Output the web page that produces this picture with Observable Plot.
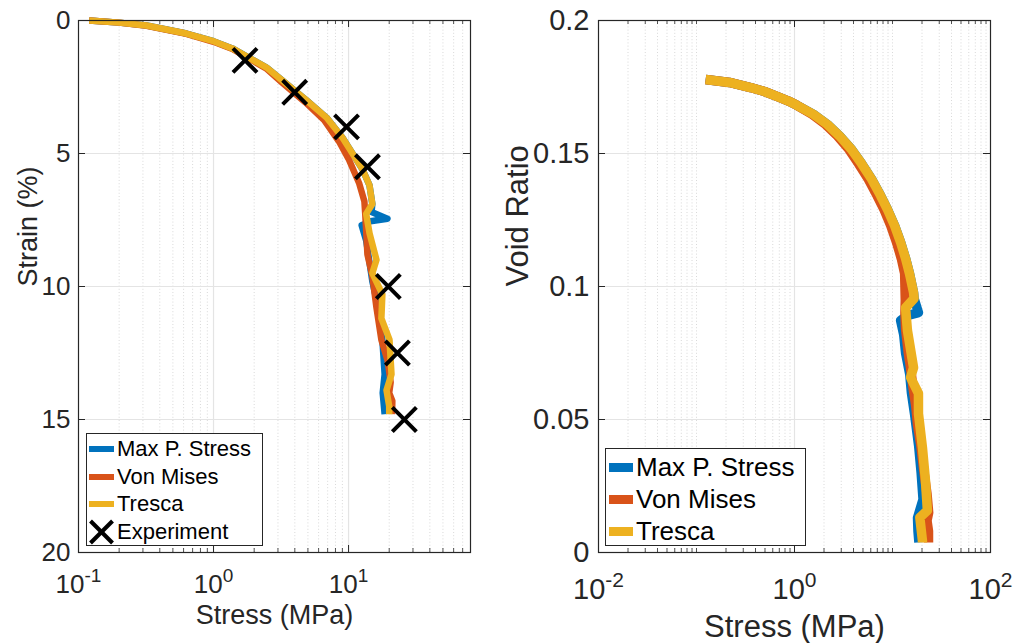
<!DOCTYPE html>
<html><head><meta charset="utf-8">
<script src="https://cdn.jsdelivr.net/npm/d3@7"></script>
<script src="https://cdn.jsdelivr.net/npm/@observablehq/plot@0.6"></script>
<style>
body{margin:0;background:#fff;font-family:"Liberation Sans",Arial,Helvetica,sans-serif;}
#wrap{position:relative;width:1016px;height:643px;overflow:hidden;background:#fff;}
.panel{position:absolute;top:0;}
.legend{position:absolute;background:#fff;border:1px solid #262626;box-sizing:border-box;}
.row{position:absolute;left:0;display:flex;align-items:center;white-space:nowrap;color:#000;}
</style></head><body><div id="wrap"></div>
<script>
// ---- legend / series labels ----
const seriesNames = ["Max P. Stress", "Von Mises", "Tresca"];
const seriesColors = ["#0072BD", "#D95319", "#EDB120"];
const experimentName = "Experiment";
const leftXTitle = "Stress (MPa)";
const leftYTitle = "Strain (%)";
const rightXTitle = "Stress (MPa)";
const rightYTitle = "Void Ratio";

// ---- left panel: [stress (MPa), strain (%)] ----
const leftMaxP = [[0.12,0],[0.2,0.08],[0.32,0.19],[0.63,0.49],[1.0,0.78],[1.38,1.05],[2.47,1.77],[3.24,2.26],[4.88,3.0],[6.87,3.65],[9.0,4.4],[10.7,5.0],[12.7,5.6],[14.3,6.2],[15.0,6.9],[14.8,7.2],[19.4,7.45],[14.5,7.55],[12.5,7.7],[13.5,8.27],[14.2,9.0],[15.0,9.8],[16.9,11.0],[17.8,12.0],[18.5,13.3],[17.9,14.0],[18.5,14.8]];
const leftVonMises = [[0.12,0],[0.2,0.08],[0.32,0.2],[0.63,0.5],[1.0,0.8],[1.38,1.07],[2.45,1.8],[3.2,2.32],[4.8,3.08],[6.6,3.75],[8.5,4.55],[10.0,5.2],[12.0,6.13],[13.1,6.8],[13.3,7.3],[13.5,7.9],[13.8,8.8],[15.0,9.6],[16.1,10.8],[17.5,12.0],[19.5,12.8],[20.5,13.6],[20.0,14.0],[21.1,14.3],[21.0,14.8]];
const leftTresca = [[0.12,0],[0.2,0.08],[0.32,0.19],[0.63,0.49],[1.0,0.78],[1.38,1.05],[2.47,1.77],[3.24,2.26],[4.88,3.0],[6.87,3.65],[9.0,4.4],[10.7,5.0],[12.7,5.6],[14.3,6.2],[15.0,6.9],[13.5,7.27],[14.3,8.0],[16.1,9.0],[15.0,9.5],[17.8,10.3],[17.5,11.2],[20.1,12.0],[20.8,13.3],[19.1,13.9],[20.0,14.5],[20.0,14.8]];
const leftExperiment = [[1.71,1.5],[3.99,2.7],[9.66,4.0],[13.8,5.5],[19.7,10.0],[23.0,12.5],[25.9,15.0]];

// ---- right panel: [stress (MPa), void ratio] ----
const rightMaxP = [[0.124,0.1778],[0.217,0.1767],[0.356,0.1748],[0.494,0.1733],[0.671,0.1714],[0.869,0.1697],[1.048,0.1682],[1.563,0.1647],[2.17,0.1609],[2.88,0.1566],[3.82,0.1515],[4.83,0.1462],[6.11,0.1404],[7.55,0.1342],[8.9,0.1289],[10.5,0.1229],[12.1,0.1166],[13.6,0.1105],[14.9,0.1049],[16.4,0.0977],[16.6,0.0955],[18.4,0.0902],[14.0,0.089],[12.1,0.0872],[13.0,0.082],[13.6,0.075],[15.0,0.067],[15.6,0.06],[16.8,0.052],[18.5,0.04],[19.6,0.03],[20.5,0.02],[18.0,0.013],[18.2,0.008],[18.6,0.0038]];
const rightVonMises = [[0.124,0.1778],[0.217,0.1767],[0.356,0.1748],[0.494,0.1733],[0.671,0.1714],[0.869,0.1697],[1.048,0.1682],[1.52,0.1647],[2.08,0.1609],[2.74,0.1566],[3.6,0.1515],[4.5,0.1462],[5.65,0.1404],[6.95,0.1342],[8.2,0.1289],[9.6,0.1229],[11.0,0.1166],[12.3,0.1105],[13.3,0.1049],[13.5,0.095],[13.4,0.09],[13.6,0.084],[14.5,0.075],[15.2,0.07],[16.2,0.062],[17.3,0.055],[18.0,0.048],[19.5,0.04],[21.0,0.03],[22.5,0.022],[23.4,0.015],[22.5,0.012],[23.3,0.008],[23.3,0.0038]];
const rightTresca = [[0.124,0.1778],[0.217,0.1767],[0.356,0.1748],[0.494,0.1733],[0.671,0.1714],[0.869,0.1697],[1.048,0.1682],[1.563,0.1647],[2.17,0.1609],[2.88,0.1566],[3.82,0.1515],[4.83,0.1462],[6.11,0.1404],[7.55,0.1342],[8.9,0.1289],[10.5,0.1229],[12.1,0.1166],[13.6,0.1105],[14.9,0.1049],[16.4,0.0977],[16.6,0.0955],[13.6,0.092],[14.2,0.0835],[16.4,0.0695],[15.3,0.0658],[18.4,0.0598],[18.4,0.0522],[20.2,0.0395],[21.7,0.027],[22.7,0.0158],[19.0,0.0132],[20.2,0.0045],[20.2,0.0038]];

// ---- axes ----
const leftXDomain = [0.1, 80];
const leftXMajor = [0.1, 1, 10];
const leftYDomain = [0, 20];
const leftYTicks = [0, 5, 10, 15, 20];
const rightXDomain = [0.01, 100];
const rightXMajor = [0.01, 1, 100];
const rightYDomain = [0, 0.2];
const rightYTicks = [0, 0.05, 0.1, 0.15, 0.2];
const minorMultipliers = [2, 3, 4, 5, 6, 7, 8, 9];

const INK = "#262626";
const FONT = "'Liberation Sans', Arial, Helvetica, sans-serif";

function minorTicks(domain, extraDecades) {
  const out = [];
  const lo = Math.floor(Math.log10(domain[0])), hi = Math.ceil(Math.log10(domain[1]));
  for (let k = lo; k < hi; k++) {
    for (const m of minorMultipliers) {
      const v = m * Math.pow(10, k);
      if (v > domain[0] && v < domain[1]) out.push(+v.toPrecision(6));
    }
    const d = Math.pow(10, k);
    if (extraDecades && d > domain[0] && d < domain[1]) out.push(d);
  }
  return out;
}

function toRows(arr) { return arr.map(([x, y]) => ({x, y})); }

function superscriptTicks(svg, baseSize, supSize, supDy) {
  svg.querySelectorAll('g[aria-label="x-axis tick label"] text').forEach(t => {
    const s = t.textContent;
    const m = s.match(/^10\^(-?\d+)$/);
    if (!m) return;
    while (t.firstChild) t.removeChild(t.firstChild);
    const ns = "http://www.w3.org/2000/svg";
    const b = document.createElementNS(ns, "tspan");
    b.textContent = "10";
    b.setAttribute("font-size", baseSize);
    const sp = document.createElementNS(ns, "tspan");
    sp.textContent = m[1];
    sp.setAttribute("font-size", supSize);
    sp.setAttribute("dy", supDy);
    t.appendChild(b); t.appendChild(sp);
  });
}

function panel(cfg) {
  const frameW = cfg.width - cfg.ml - cfg.mr;
  const frameH = cfg.height - cfg.mt - cfg.mb;
  const marks = [
    Plot.gridX(cfg.minorX, {stroke: "#cfcfcf", strokeOpacity: 1, strokeDasharray: "1,2.2", strokeWidth: 0.8}),
    Plot.gridX(cfg.majorGridX, {stroke: "#e4e4e4", strokeOpacity: 1, strokeWidth: 1.2}),
    Plot.gridY(cfg.majorGridY, {stroke: "#e4e4e4", strokeOpacity: 1, strokeWidth: 1.2}),
    // inward ticks
    Plot.tickX(cfg.minorTickX, {x: d => d, stroke: INK, strokeWidth: 0.8, insetTop: frameH - 4}),
    Plot.tickX(cfg.minorTickX, {x: d => d, stroke: INK, strokeWidth: 0.8, insetBottom: frameH - 4}),
    Plot.tickX(cfg.majorX, {x: d => d, stroke: INK, strokeWidth: 1, insetTop: frameH - 7}),
    Plot.tickX(cfg.majorX, {x: d => d, stroke: INK, strokeWidth: 1, insetBottom: frameH - 7}),
    Plot.tickY(cfg.yTicks, {y: d => d, stroke: INK, strokeWidth: 1, insetRight: frameW - 7}),
    Plot.tickY(cfg.yTicks, {y: d => d, stroke: INK, strokeWidth: 1, insetLeft: frameW - 7}),
  ];
  cfg.series.forEach((s, i) => {
    marks.push(Plot.line(toRows(s), {x: "x", y: "y", stroke: seriesColors[i], strokeWidth: cfg.lineWidth, strokeLinejoin: "round", strokeLinecap: "butt"}));
  });
  if (cfg.experiment) {
    marks.push(Plot.dot(toRows(cfg.experiment), {x: "x", y: "y", symbol: "times", r: 11, stroke: "#000", strokeWidth: 4}));
  }
  marks.push(
    Plot.frame({stroke: INK, strokeWidth: 1.2}),
    Plot.axisX(cfg.majorX, {tickSize: 0, tickPadding: cfg.xPad, fontSize: cfg.tickFont, color: INK, label: null,
      tickFormat: d => "10^" + Math.round(Math.log10(d))}),
    Plot.axisY(cfg.yTicks, {tickSize: 0, tickPadding: cfg.yPad, fontSize: cfg.tickFont, color: INK, label: null,
      tickFormat: d => String(d)}),
    Plot.text([cfg.xTitle], {text: d => d, frameAnchor: "bottom", dy: cfg.xTitleDy, fontSize: cfg.titleFont, fill: INK, lineAnchor: "middle"}),
    Plot.text([cfg.yTitle], {text: d => d, frameAnchor: "left", dx: cfg.yTitleDx, rotate: -90, fontSize: cfg.titleFont, fill: INK, lineAnchor: "middle"})
  );
  const svg = Plot.plot({
    width: cfg.width, height: cfg.height,
    marginLeft: cfg.ml, marginRight: cfg.mr, marginTop: cfg.mt, marginBottom: cfg.mb,
    style: {fontFamily: FONT, background: "transparent", overflow: "visible"},
    x: {type: "log", domain: cfg.xDomain},
    y: {domain: cfg.yDomain, reverse: cfg.reverseY},
    marks
  });
  superscriptTicks(svg, cfg.tickFont + "px", Math.round(cfg.tickFont * 0.72) + "px", -Math.round(cfg.tickFont * 0.42));
  return svg;
}

function legend(cfg) {
  const box = document.createElement("div");
  box.className = "legend";
  Object.assign(box.style, {left: cfg.left + "px", top: cfg.top + "px", width: cfg.width + "px", height: cfg.height + "px"});
  cfg.entries.forEach((e, i) => {
    const row = document.createElement("div");
    row.className = "row";
    const cy = cfg.firstY + i * cfg.step;
    Object.assign(row.style, {top: (cy - cfg.rowH / 2) + "px", height: cfg.rowH + "px", fontSize: cfg.font + "px", fontFamily: FONT});
    const sw = document.createElement("div");
    if (e.color) {
      Object.assign(sw.style, {width: cfg.swW + "px", height: cfg.swH + "px", background: e.color, marginLeft: cfg.swLeft + "px", marginRight: cfg.gap + "px"});
    } else {
      Object.assign(sw.style, {width: cfg.swW + "px", height: cfg.rowH + "px", marginLeft: cfg.swLeft + "px", marginRight: cfg.gap + "px"});
      const r = 11;
      sw.innerHTML = `<svg width="${cfg.swW}" height="${cfg.rowH}"><g transform="translate(${cfg.swW/2},${cfg.rowH/2})" stroke="#000" stroke-width="4"><line x1="${-r}" y1="${-r}" x2="${r}" y2="${r}"/><line x1="${-r}" y1="${r}" x2="${r}" y2="${-r}"/></g></svg>`;
    }
    const tx = document.createElement("span");
    tx.textContent = e.name;
    row.appendChild(sw); row.appendChild(tx);
    box.appendChild(row);
  });
  return box;
}

const wrap = document.getElementById("wrap");

const left = panel({
  width: 480, height: 643, ml: 78, mr: 10, mt: 20, mb: 91,
  xDomain: leftXDomain, yDomain: leftYDomain, reverseY: true,
  majorX: leftXMajor, majorGridX: [1, 10], majorGridY: [5, 10, 15],
  minorX: minorTicks(leftXDomain, false), minorTickX: minorTicks(leftXDomain, false),
  yTicks: leftYTicks,
  series: [leftMaxP, leftVonMises, leftTresca], experiment: leftExperiment,
  lineWidth: 6.5, tickFont: 26, titleFont: 27, xPad: 22, yPad: 8,
  xTitle: leftXTitle, yTitle: leftYTitle, xTitleDy: 63, yTitleDx: -50
});
left.classList.add("panel"); left.style.left = "0px";
wrap.appendChild(left);

const right = panel({
  width: 536, height: 643, ml: 118, mr: 26, mt: 20, mb: 91,
  xDomain: rightXDomain, yDomain: rightYDomain, reverseY: false,
  majorX: rightXMajor, majorGridX: [1], majorGridY: [0.05, 0.1, 0.15],
  minorX: minorTicks(rightXDomain, true), minorTickX: minorTicks(rightXDomain, true),
  yTicks: rightYTicks,
  series: [rightMaxP, rightVonMises, rightTresca], experiment: null,
  lineWidth: 9.5, tickFont: 29, titleFont: 31, xPad: 26, yPad: 9,
  xTitle: rightXTitle, yTitle: rightYTitle, xTitleDy: 75, yTitleDx: -80
});
right.classList.add("panel"); right.style.left = "480px";
wrap.appendChild(right);

wrap.appendChild(legend({
  left: 86, top: 433, width: 177, height: 113, firstY: 15, step: 27.6, rowH: 26, font: 22,
  swW: 25, swH: 6, swLeft: 2, gap: 3,
  entries: seriesNames.map((n, i) => ({name: n, color: seriesColors[i]})).concat([{name: experimentName, color: null}])
}));
wrap.appendChild(legend({
  left: 605, top: 448, width: 201, height: 98, firstY: 18, step: 32, rowH: 30, font: 26,
  swW: 24, swH: 9, swLeft: 3, gap: 3,
  entries: seriesNames.map((n, i) => ({name: n, color: seriesColors[i]}))
}));
</script>
</body></html>
